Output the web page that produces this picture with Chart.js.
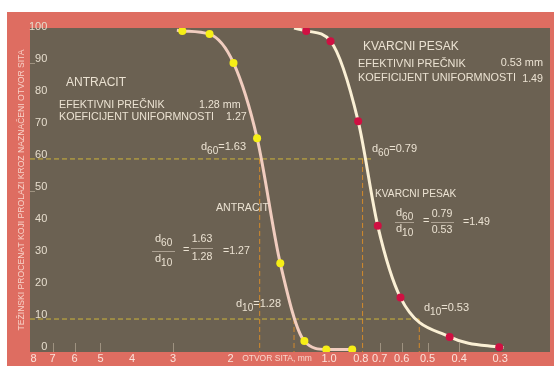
<!DOCTYPE html>
<html>
<head>
<meta charset="utf-8">
<script src="https://cdn.jsdelivr.net/npm/chart.js@4.4.1/dist/chart.umd.min.js"></script>
<style>
  html, body { margin: 0; padding: 0; background: #ffffff; }
  #wrap { width: 554px; height: 369px; }
</style>
</head>
<body>
<div id="wrap"><canvas id="grain" width="554" height="369"></canvas></div>
<script>
// Sieve analysis: opening of the sieve (mm) and weight percent passing
const antracitSieve   = [2.81, 2.32, 1.96, 1.66, 1.41, 1.19, 1.02, 0.85];
const antracitPassing = [100, 99, 90, 66.5, 27.4, 3.1, 0.5, 0.5];
const pesakSieve      = [1.175, 0.99, 0.815, 0.71, 0.605, 0.428, 0.302];
const pesakPassing    = [100, 96.8, 71.8, 39.1, 16.7, 4.4, 1.2];

// hand-drawn curve continues a little beyond the measured points
const antracitCurveLead = [2.92, 100.2];
const pesakCurveLead    = [1.28, 100.9];
const pesakCurveTail    = [0.293, 1.1];

// characteristic diameters d60 / d10 (mm)
const antracitD60 = 1.63, antracitD10 = 1.28;
const pesakD60    = 0.79, pesakD10    = 0.53;
// where the horizontal 60 % and 10 % guides stop
const guide60End = 0.735;
const guide10End = 0.52;

// axis ticks
const sieveTicks   = [8, 7, 6, 5, 4, 3, 2, 1, 0.8, 0.7, 0.6, 0.5, 0.4, 0.3];
const minorMarks   = [7, 6, 5, 3, 0.7, 0.6, 0.5, 0.4];
const percentTicks = [0, 10, 20, 30, 40, 50, 60, 70, 80, 90, 100];

const X_MIN = 0.2112, X_MAX = 8.21;
const Y_MIN = -0.3, Y_MAX = 100.9;

const FONT = '"Liberation Sans", Arial, Helvetica, sans-serif';
const SALMON = '#de6d61';
const BROWN = '#6b6152';
const TEXT = '#ebe2d2';
const YELLOW_DASH = '#cdb53a';
const ORANGE_DASH = '#d38a2c';

const pts = (xs, ys) => xs.map((x, i) => ({ x: x, y: ys[i] }));
const pair = p => ({ x: p[0], y: p[1] });

function guide(points, color, order) {
  return {
    data: points, borderColor: color, borderWidth: 1, borderDash: [5, 3],
    pointRadius: 0, tension: 0, order: order, fill: false
  };
}

const backdrop = {
  id: 'backdrop',
  beforeDraw(chart) {
    const { ctx, chartArea: a } = chart;
    ctx.save();
    ctx.fillStyle = '#ffffff';
    ctx.fillRect(0, 0, chart.width, chart.height);
    ctx.fillStyle = SALMON;
    ctx.fillRect(7, 12, chart.width - 7, 354);
    ctx.fillStyle = BROWN;
    ctx.fillRect(a.left, a.top, a.right - a.left, a.bottom - a.top);
    ctx.restore();
  },
  beforeDatasetsDraw(chart) {
    const { ctx, chartArea: a, scales } = chart;
    ctx.save();
    ctx.strokeStyle = 'rgba(200,188,165,0.55)';
    ctx.lineWidth = 1;
    minorMarks.forEach(v => {
      const x = Math.round(scales.x.getPixelForValue(v)) + 0.5;
      ctx.beginPath(); ctx.moveTo(x, a.bottom - 9); ctx.lineTo(x, a.bottom); ctx.stroke();
    });
    [50, 90].forEach(v => {
      const y = Math.round(scales.y.getPixelForValue(v)) + 0.5;
      ctx.beginPath(); ctx.moveTo(a.left, y); ctx.lineTo(a.left + 5, y); ctx.stroke();
    });
    ctx.restore();
  }
};

function put(ctx, s, x, y, size, align, color) {
  ctx.font = size + 'px ' + FONT;
  ctx.textAlign = align || 'left';
  ctx.textBaseline = 'middle';
  ctx.fillStyle = color || TEXT;
  ctx.fillText(s, x, y);
  return ctx.measureText(s).width;
}
// "d" with a subscript, followed by optional text
function dsub(ctx, sub, rest, x, y) {
  let w = put(ctx, 'd', x, y, 11);
  w += put(ctx, sub, x + w, y + 4, 10);
  if (rest) put(ctx, rest, x + w, y, 11);
}
function bar(ctx, x1, x2, y) {
  ctx.strokeStyle = 'rgba(225,215,198,0.55)';
  ctx.lineWidth = 1;
  ctx.beginPath(); ctx.moveTo(x1, y + 0.5); ctx.lineTo(x2, y + 0.5); ctx.stroke();
}

const notes = {
  id: 'notes',
  afterDatasetsDraw(chart) {
    const ctx = chart.ctx;
    const f2 = v => v.toFixed(2);
    const uA = f2(antracitD60 / antracitD10);
    const uP = f2(pesakD60 / pesakD10);
    ctx.save();
    // antracit summary
    put(ctx, 'ANTRACIT', 66, 83, 12);
    put(ctx, 'EFEKTIVNI PREČNIK', 59, 105, 10.7);
    put(ctx, f2(antracitD10) + ' mm', 199, 105, 10.7);
    put(ctx, 'KOEFICIJENT UNIFORMNOSTI', 59, 117, 10.7);
    put(ctx, uA, 226, 117, 10.7);
    // kvarcni pesak summary
    put(ctx, 'KVARCNI PESAK', 363, 47, 12);
    put(ctx, 'EFEKTIVNI PREČNIK', 358, 63.5, 10.9);
    put(ctx, f2(pesakD10) + ' mm', 543, 63, 10.9, 'right');
    put(ctx, 'KOEFICIJENT UNIFORMNOSTI', 358, 77.5, 10.9);
    put(ctx, uP, 543, 79, 10.7, 'right');
    // curve labels
    put(ctx, 'ANTRACIT', 216, 208, 10.6);
    put(ctx, 'KVARCNI PESAK', 375, 194, 10.2);
    // d60 / d10 labels
    dsub(ctx, '60', '=' + f2(antracitD60), 201, 147);
    dsub(ctx, '60', '=' + f2(pesakD60), 372, 149);
    dsub(ctx, '10', '=' + f2(antracitD10), 236, 304);
    dsub(ctx, '10', '=' + f2(pesakD10), 424, 308);
    // antracit ratio
    dsub(ctx, '60', '', 155, 239);
    bar(ctx, 152, 175, 251);
    dsub(ctx, '10', '', 155, 259);
    put(ctx, '=', 183, 250, 11);
    put(ctx, f2(antracitD60), 202, 239, 10.6, 'center');
    bar(ctx, 191, 213, 248);
    put(ctx, f2(antracitD10), 202, 257, 10.6, 'center');
    put(ctx, '=' + uA, 223, 251, 10.6);
    // kvarcni pesak ratio
    dsub(ctx, '60', '', 396, 213);
    bar(ctx, 395, 414, 222);
    dsub(ctx, '10', '', 396, 229);
    put(ctx, '=', 423, 221, 11);
    put(ctx, f2(pesakD60), 442, 214, 10.6, 'center');
    bar(ctx, 431, 454, 222);
    put(ctx, f2(pesakD10), 442, 230, 10.6, 'center');
    put(ctx, '=' + uP, 463, 222, 10.6);
    // x axis caption between ticks
    put(ctx, 'OTVOR SITA, mm', 277, 359, 8.5, 'center', '#f8d6cc');
    ctx.restore();
  }
};

const antracitLine = [pair(antracitCurveLead)].concat(pts(antracitSieve, antracitPassing));
const pesakLine = [pair(pesakCurveLead)].concat(pts(pesakSieve, pesakPassing), [pair(pesakCurveTail)]);

new Chart(document.getElementById('grain'), {
  type: 'line',
  data: {
    datasets: [
      { data: pts(antracitSieve, antracitPassing), showLine: false, pointRadius: 4, pointHoverRadius: 4,
        pointBackgroundColor: '#f6ee16', pointBorderWidth: 0, order: 1 },
      { data: pts(pesakSieve, pesakPassing), showLine: false, pointRadius: 4, pointHoverRadius: 4,
        pointBackgroundColor: '#cf1042', pointBorderWidth: 0, order: 1 },
      { data: antracitLine, borderColor: '#f1cdbf', borderWidth: 3, pointRadius: 0,
        cubicInterpolationMode: 'monotone', order: 2, fill: false },
      { data: pesakLine, borderColor: '#fbf0d5', borderWidth: 3, pointRadius: 0,
        cubicInterpolationMode: 'monotone', order: 2, fill: false },
      guide([{ x: X_MAX, y: 60 }, { x: guide60End, y: 60 }], YELLOW_DASH, 5),
      guide([{ x: X_MAX, y: 10 }, { x: guide10End, y: 10 }], YELLOW_DASH, 5),
      guide([{ x: antracitD60, y: 60 }, { x: antracitD60, y: Y_MIN }], ORANGE_DASH, 5),
      guide([{ x: pesakD60, y: 60 }, { x: pesakD60, y: Y_MIN }], ORANGE_DASH, 5),
      guide([{ x: antracitD10, y: 10 }, { x: antracitD10, y: Y_MIN }], ORANGE_DASH, 5),
      guide([{ x: pesakD10, y: 10 }, { x: pesakD10, y: Y_MIN }], ORANGE_DASH, 5)
    ]
  },
  options: {
    responsive: false,
    animation: false,
    events: [],
    layout: { padding: { left: 0, top: 28, right: 1, bottom: 0 } },
    plugins: { legend: { display: false }, tooltip: { enabled: false } },
    scales: {
      x: {
        type: 'logarithmic', reverse: true, min: X_MIN, max: X_MAX, position: 'bottom',
        grid: { display: false, drawTicks: false }, border: { display: false },
        afterBuildTicks: s => { s.ticks = sieveTicks.map(v => ({ value: v })); },
        afterFit: s => { s.height = 17; },
        ticks: {
          autoSkip: false, maxRotation: 0, minRotation: 0, padding: 0,
          color: '#fbe2da', font: { family: FONT, size: 11 },
          callback: v => (v === 1 ? '1.0' : String(v))
        }
      },
      y: {
        type: 'linear', min: Y_MIN, max: Y_MAX, position: 'left',
        grid: { display: false, drawTicks: false }, border: { display: false },
        afterBuildTicks: s => { s.ticks = percentTicks.map(v => ({ value: v })); },
        afterFit: s => { s.width = 30; },
        ticks: {
          mirror: true, crossAlign: 'far', padding: -1, labelOffset: -4,
          color: '#e6ddcd', font: { family: FONT, size: 11 }
        },
        title: {
          display: true,
          text: 'TEŽINSKI PROCENAT KOJI PROLAZI KROZ NAZNAČENI OTVOR SITA',
          color: '#f8d3c9', font: { family: FONT, size: 8.6 },
          padding: { top: 16.5, bottom: 0 }
        }
      }
    }
  },
  plugins: [backdrop, notes]
});
</script>
</body>
</html>
